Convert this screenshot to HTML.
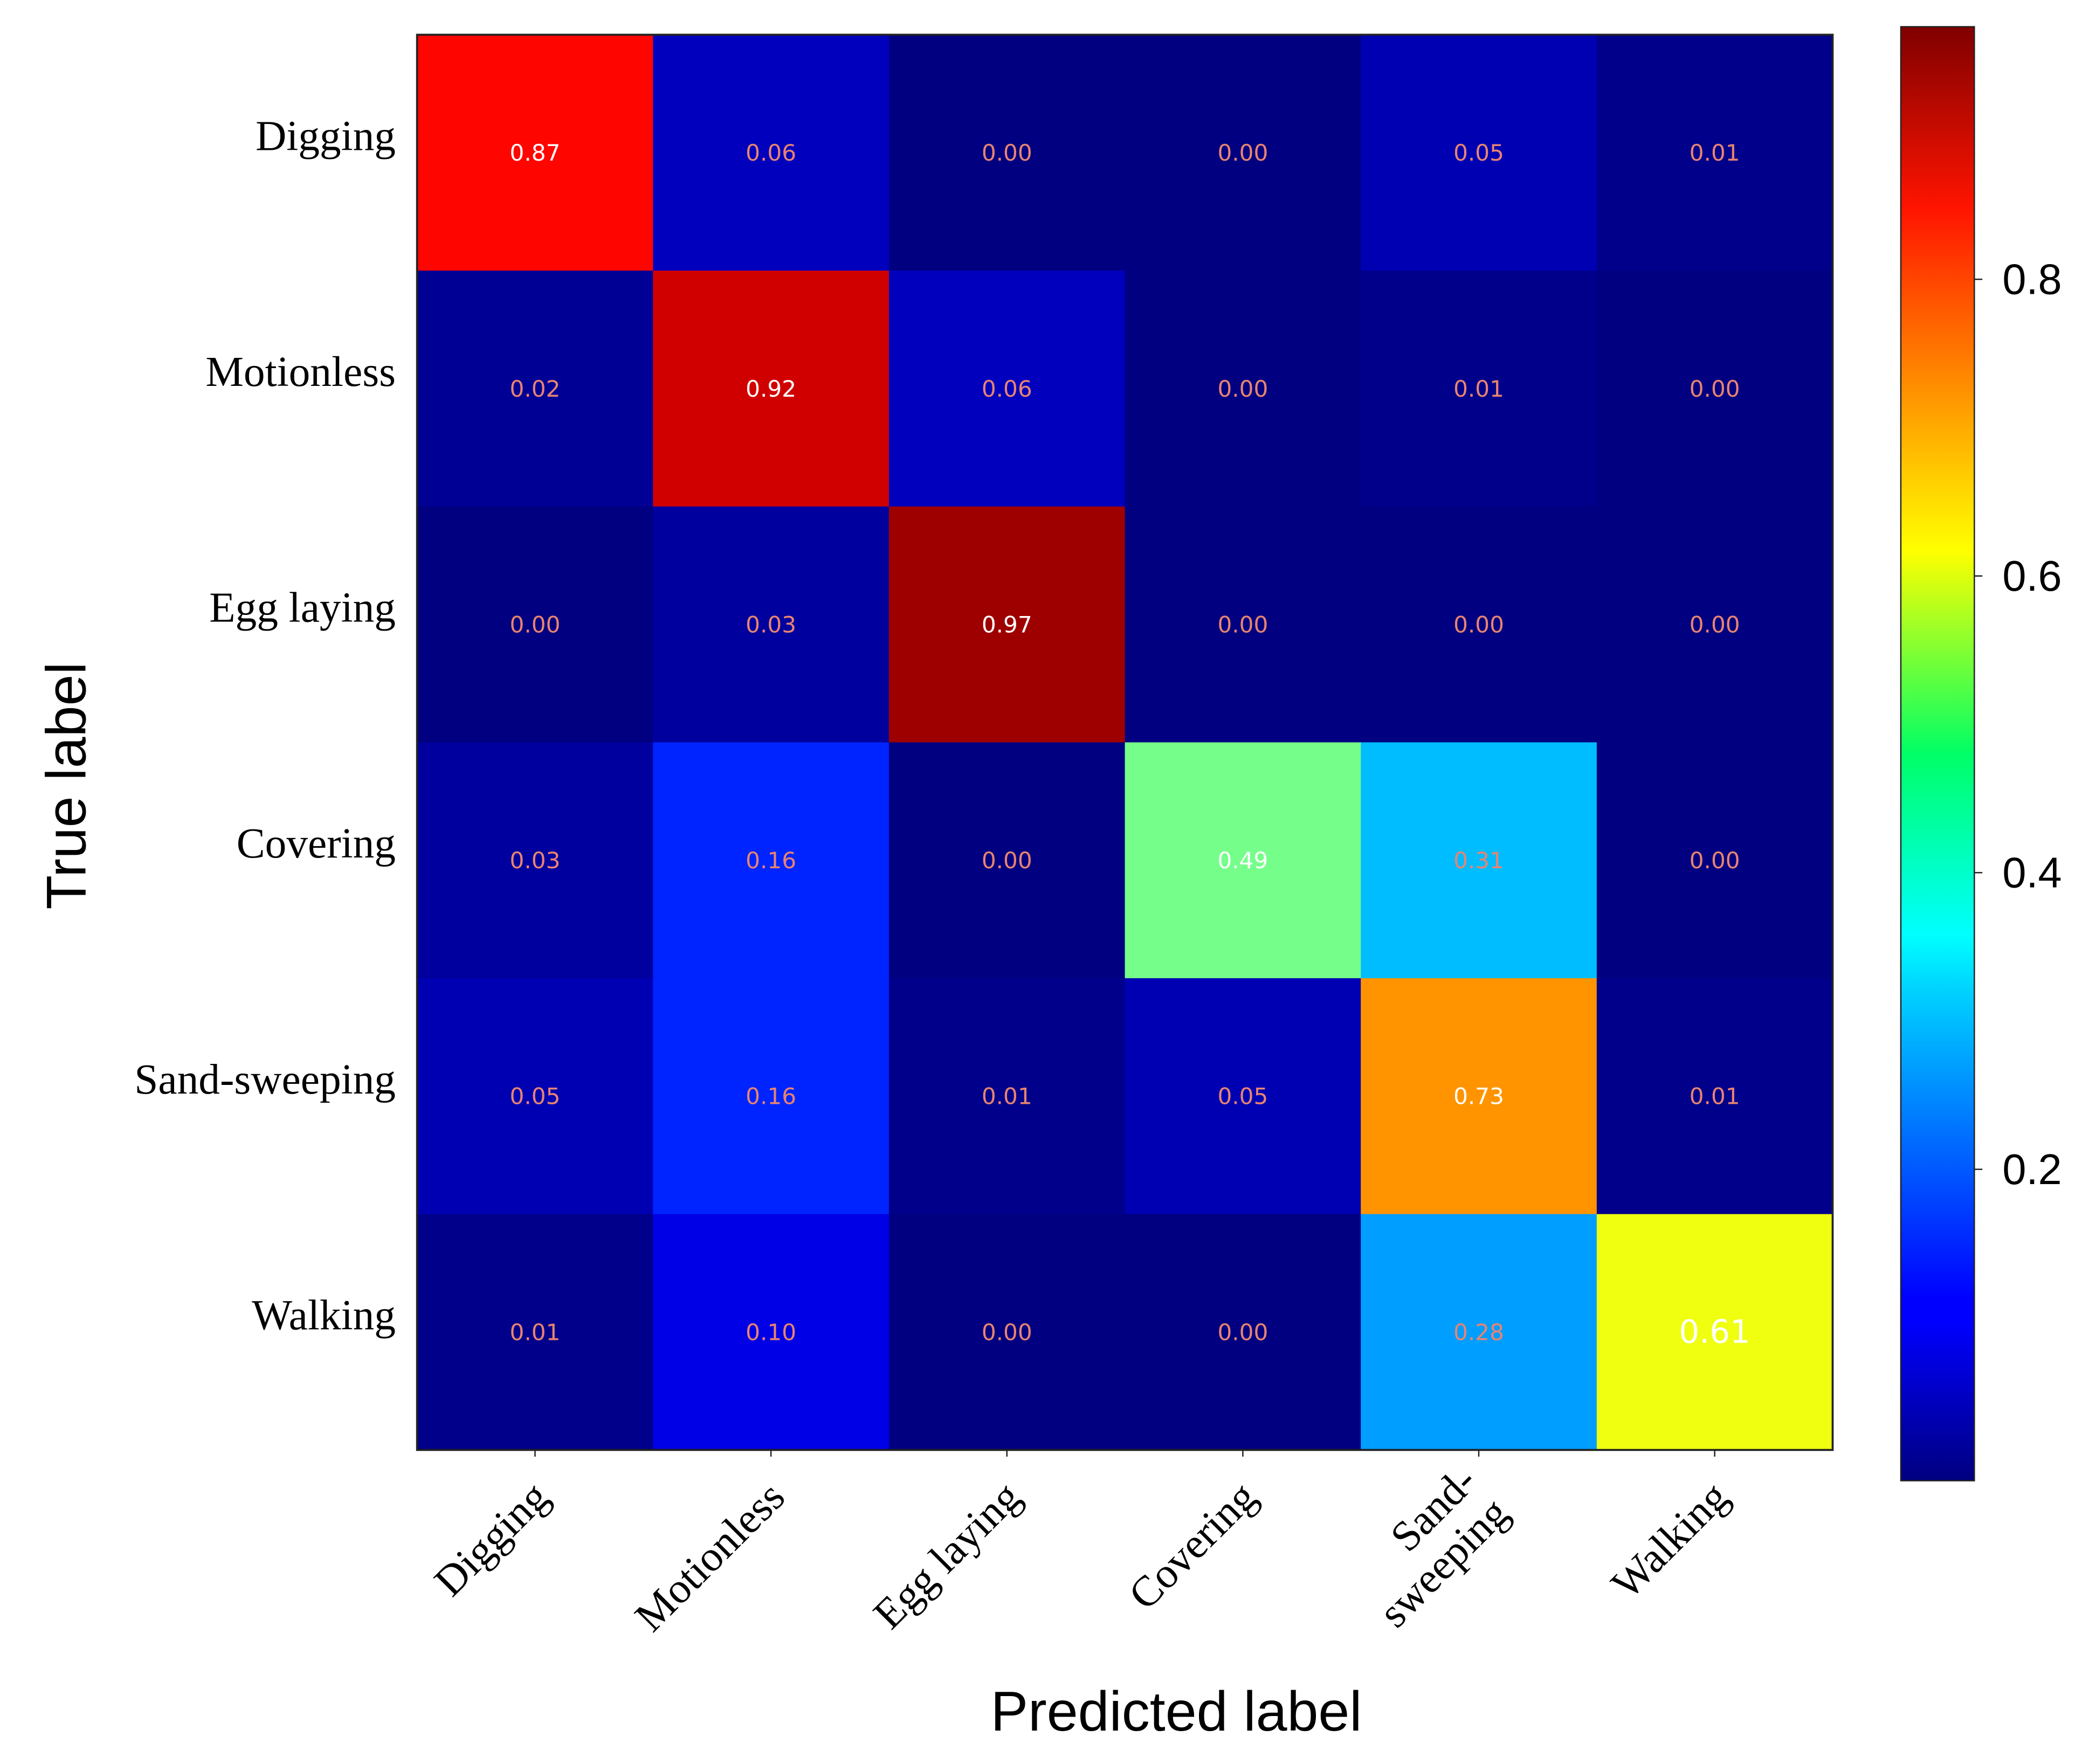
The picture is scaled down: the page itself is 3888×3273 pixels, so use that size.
<!DOCTYPE html>
<html><head><meta charset="utf-8"><style>html,body{margin:0;padding:0;background:#fff}svg{display:block}</style></head>
<body>
<svg id="chart" xmlns="http://www.w3.org/2000/svg" width="3888" height="3273" viewBox="0 0 1568 1320">
<defs>
<linearGradient id="jet" x1="0" y1="1" x2="0" y2="0">
<stop offset="0" stop-color="#000080"/><stop offset="0.11" stop-color="#0000ff"/><stop offset="0.125" stop-color="#0000ff"/><stop offset="0.34" stop-color="#00d5ff"/><stop offset="0.375" stop-color="#00ffff"/><stop offset="0.5" stop-color="#00ff66"/><stop offset="0.64" stop-color="#ffff00"/><stop offset="0.875" stop-color="#ff1400"/><stop offset="1" stop-color="#800000"/>
</linearGradient>
</defs>
<g id="cells"></g>
<rect x="312" y="26" width="1059" height="1059" fill="none" stroke="#222" stroke-width="1.5"/>
<g id="rowlabels"></g>
<g id="collabels"></g>
<text x="880" y="1295" text-anchor="middle" font-family="Liberation Sans, sans-serif" font-size="42">Predicted label</text>
<text transform="translate(64,588) rotate(-90)" text-anchor="middle" font-family="Liberation Sans, sans-serif" font-size="42">True label</text>
<rect x="1422" y="20" width="55" height="1088" fill="url(#jet)" stroke="#222" stroke-width="1"/>
<g id="cbticks"></g>
</svg>
<script>
const categories = ["Digging","Motionless","Egg laying","Covering","Sand-sweeping","Walking"];
const colLabels = [["Digging"],["Motionless"],["Egg laying"],["Covering"],["Sand-","sweeping"],["Walking"]];
const rowDigging = [0.87,0.06,0.00,0.00,0.05,0.01];
const rowMotionless = [0.02,0.92,0.06,0.00,0.01,0.00];
const rowEggLaying = [0.00,0.03,0.97,0.00,0.00,0.00];
const rowCovering = [0.03,0.16,0.00,0.49,0.31,0.00];
const rowSandSweeping = [0.05,0.16,0.01,0.05,0.73,0.01];
const rowWalking = [0.01,0.10,0.00,0.00,0.28,0.61];
const matrix = [rowDigging,rowMotionless,rowEggLaying,rowCovering,rowSandSweeping,rowWalking];
const cbTicks = [0.2,0.4,0.6,0.8];
const vmin = 0, vmax = 1.0;

const NS="http://www.w3.org/2000/svg";
const X0=312,Y0=26,W=1059,H=1059,n=categories.length,cw=W/n,ch=H/n;
const xPos=i=>X0+cw*i, yPos=i=>Y0+ch*i;
const cbY=v=>1097-(v-vmin)*1110;
function clamp(v){return Math.max(0,Math.min(1,v));}
function jet(v){const x=clamp((v-vmin)/(vmax-vmin));
 const r=clamp(1.5-Math.abs(4*x-3)),g=clamp(1.5-Math.abs(4*x-2)),b=clamp(1.5-Math.abs(4*x-1));
 return `rgb(${Math.round(r*255)},${Math.round(g*255)},${Math.round(b*255)})`;}
function mk(tag,attrs,parent){const e=document.createElementNS(NS,tag);for(const k in attrs)e.setAttribute(k,attrs[k]);parent.appendChild(e);return e;}
const cells=document.getElementById('cells');
matrix.forEach((row,r)=>row.forEach((v,c)=>{
 const rect=mk('rect',{x:xPos(c),y:yPos(r),width:cw+0.5,height:ch+0.5,fill:jet(v)},cells);
 
 
 const big=(r===5&&c===5);
 const white=v>0.45;
 const t=mk('text',{x:xPos(c)+cw/2,y:yPos(r)+ch/2+(big?8:6),'text-anchor':'middle','font-family':'DejaVu Sans, sans-serif','font-size':big?24:17,fill:white?'#fff':'#e98470'},cells);
 
 
 t.textContent=v.toFixed(2);
}));
const rl=document.getElementById('rowlabels');
categories.forEach((name,i)=>{
 const t=mk('text',{x:296,y:yPos(i)+ch/2-2,'text-anchor':'end','font-family':'Liberation Serif, serif','font-size':32},rl);
 
 
 t.textContent=name;
});
const cl=document.getElementById('collabels');
colLabels.forEach((lines,i)=>{
 const cx=xPos(i)+cw/2;
 mk('line',{x1:cx,y1:Y0+H,x2:cx,y2:Y0+H+5,stroke:'#222','stroke-width':1},cl);
 const g=mk('g',{transform:`translate(${cx+12},${1122}) rotate(-45)`},cl);
 lines.forEach((ln,j)=>{
  const t=mk('text',{x:0,y:(j-(lines.length-1))*34+((lines.length>1)?17:0),'text-anchor':'end','font-family':'Liberation Serif, serif','font-size':32},g);
  
  
  t.textContent=ln;
 });
});
const cb=document.getElementById('cbticks');
cbTicks.forEach(v=>{
 const y=cbY(v);
 mk('line',{x1:1477,y1:y,x2:1483,y2:y,stroke:'#222','stroke-width':1},cb);
 const t=mk('text',{x:1498,y:y+11,'font-family':'Liberation Sans, sans-serif','font-size':32},cb);
 
 
 t.textContent=v.toFixed(1);
});
</script>
</body></html>
